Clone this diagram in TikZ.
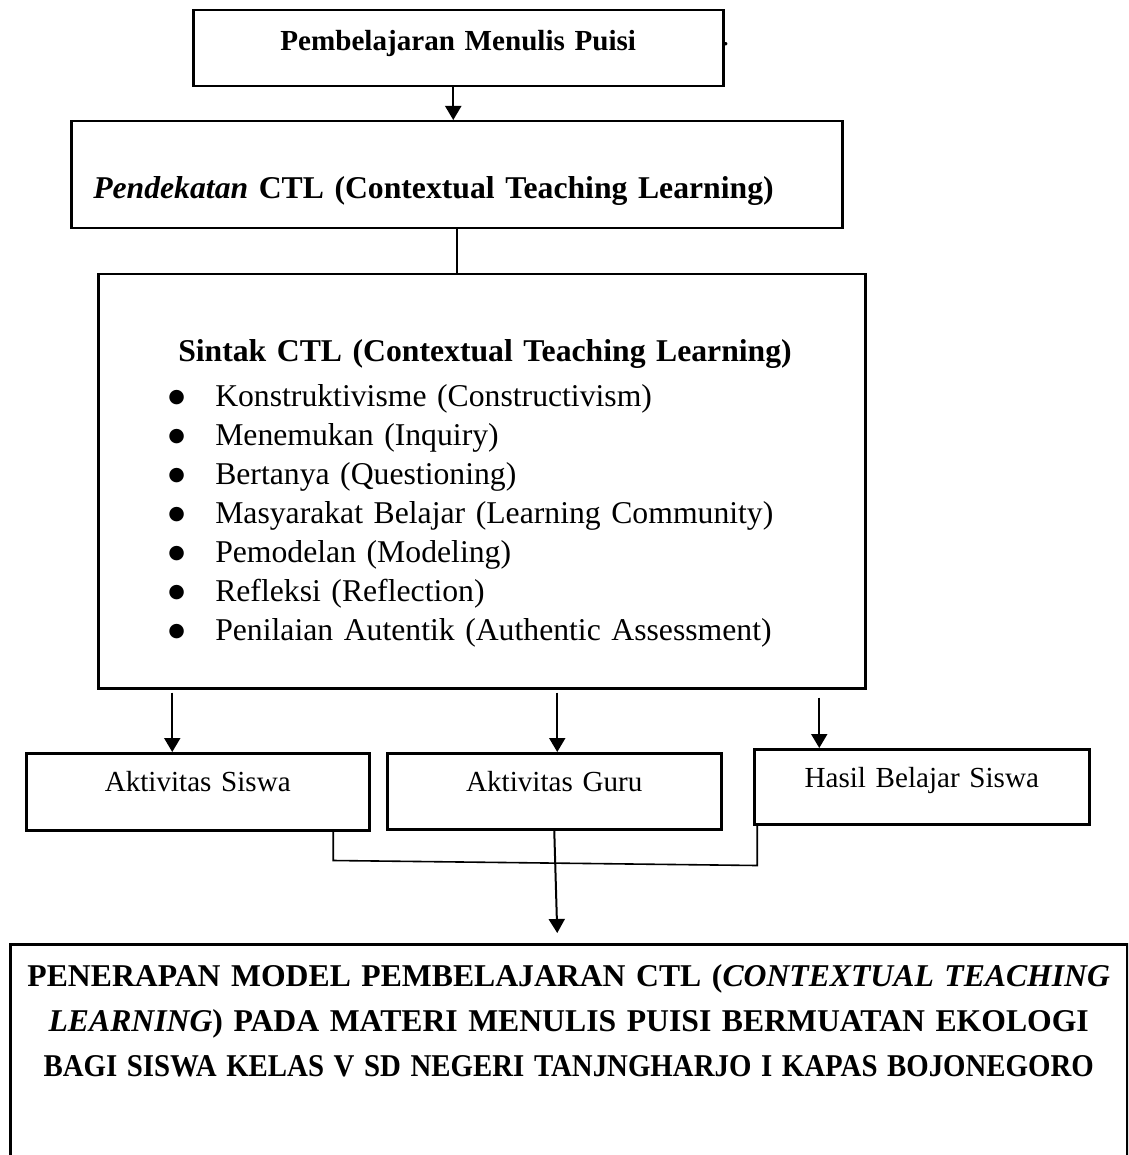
\documentclass[tikz,border=0pt]{standalone}
\usepackage{fontspec}
\setmainfont{Liberation Serif}
\newfontfamily\simbol{DejaVu Sans}
\usetikzlibrary{arrows.meta}

\newcommand{\butir}[1]{\makebox[117pt][l]{\hspace*{70pt}\raisebox{4pt}{\simbol\fontsize{19}{19}\selectfont ●}}#1}

\begin{document}
\begin{tikzpicture}[x=1pt, y=-1pt,
    kotak/.style={draw, line width=2.5pt, inner sep=0pt, anchor=north west},
    besar/.style={font=\fontsize{31.7}{39}\selectfont},
    kecil/.style={font=\fontsize{29.1}{35}\selectfont},
    panah/.style={line width=2pt, -{Triangle[length=14pt, width=16pt]}},
    garis/.style={line width=1.6pt}]
    \path[use as bounding box, clip] (0,0) rectangle (1128,1155);

    % Top boxes
    \node[kotak, kecil, align=center, text width=530, text height=40, text depth=36]
        (judul) at (192,9) {\textbf{Pembelajaran Menulis Puisi}};
    \node[kecil, anchor=base west, inner sep=0pt] (titik) at (722,46) {.};
    \node[kotak, besar, align=left, text width=771, text height=77, text depth=30]
        (pendekatan) at (70,120) {\hspace*{22pt}\textbf{\textit{Pendekatan} CTL (Contextual Teaching Learning)}};

    % Sintak box
    \node[kotak, besar, align=left, text width=767, text height=87, text depth=327]
        (sintak) at (97,273) {\hspace*{80pt}\textbf{Sintak CTL (Contextual Teaching Learning)}\\[6pt]
        \butir{Konstruktivisme (Constructivism)}\\
        \butir{Menemukan (Inquiry)}\\
        \butir{Bertanya (Questioning)}\\
        \butir{Masyarakat Belajar (Learning Community)}\\
        \butir{Pemodelan (Modeling)}\\
        \butir{Refleksi (Reflection)}\\
        \butir{Penilaian Autentik (Authentic Assessment)}};

    % Activity boxes
    \node[kotak, kecil, align=center, text width=343, text height=38, text depth=39]
        (aktsiswa) at (25,752) {Aktivitas Siswa};
    \node[kotak, kecil, align=center, text width=334, text height=38, text depth=38]
        (aktguru) at (386,752) {Aktivitas Guru};
    \node[kotak, kecil, align=center, text width=335, text height=38, text depth=37]
        (hasil) at (753,748) {Hasil Belajar Siswa};

    % Result box (runs past the bottom edge)
    \node[kotak, besar, align=center, text width=1117, text height=42, text depth=300,
        font=\fontsize{31.7}{45}\selectfont]
        (penerapan) at (9,943) {\textbf{PENERAPAN MODEL PEMBELAJARAN CTL (\textit{CONTEXTUAL TEACHING}}\\
        \mbox{\textbf{\textit{LEARNING}) PADA MATERI MENULIS PUISI BERMUATAN EKOLOGI}}\\
        \scalebox{0.91}[1]{\textbf{BAGI SISWA KELAS V SD NEGERI TANJNGHARJO I KAPAS BOJONEGORO}}};

    % Connectors
    \draw[panah] ([xshift=-5pt]judul.south) -- ([xshift=-5pt]judul.south |- pendekatan.north);
    \draw[garis] (pendekatan.south) -- (pendekatan.south |- sintak.north);
    \draw[panah, shorten <=3pt] ([xshift=-25.5pt]aktsiswa.north |- sintak.south) -- ([xshift=-25.5pt]aktsiswa.north);
    \draw[panah, shorten <=3pt] ([xshift=3pt]aktguru.north |- sintak.south) -- ([xshift=3pt]aktguru.north);
    \draw[panah, shorten <=8pt] ([xshift=-102.5pt]hasil.north |- sintak.south) -- ([xshift=-102.5pt]hasil.north);
    \draw[garis] ([xshift=135.5pt]aktsiswa.south) -- ++(0,29) -- ++(424,5) -- ([xshift=-164.5pt]hasil.south);
    \draw[panah] (aktguru.south) -- ([xshift=-11.5pt, yshift=10pt]penerapan.north);
\end{tikzpicture}
\end{document}
